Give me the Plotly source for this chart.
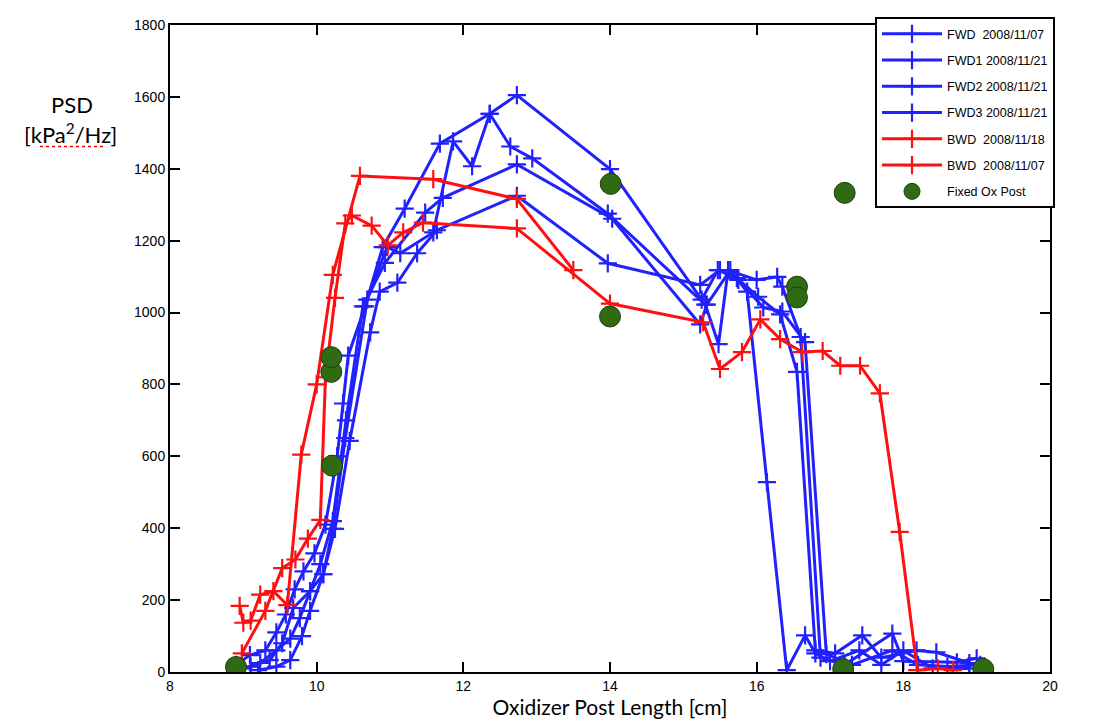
import plotly.graph_objects as go

# ---------------- data ----------------
fwd_x = [8.9, 9.09, 9.3, 9.45, 9.58, 9.7, 9.82, 9.97, 10.12, 10.28, 10.36, 10.43, 10.66, 10.9,
         11.2, 11.68, 12.36, 12.73, 14.0, 15.25, 15.47, 15.73, 16.02, 16.32, 16.55, 16.8, 17.07,
         17.44, 17.7, 18.18, 18.45, 18.9]
fwd_y = [20, 47, 60, 110, 160, 230, 280, 330, 410, 600, 747, 880, 1017, 1182,
         1289, 1470, 1553, 1605, 1399, 1036, 1118, 1096, 1044, 995, 835, 60, 52,
         102, 40, 60, 55, 25]

fwd1_x = [9.0, 9.23, 9.45, 9.64, 9.77, 9.91, 10.09, 10.22, 10.39, 10.69, 10.96, 11.14, 11.59,
          11.86, 12.12, 12.36, 12.64, 12.94, 13.97, 15.3, 15.48, 15.61, 16.0, 16.28, 16.35,
          16.6, 16.87, 17.2, 17.85, 18.0, 18.73, 19.0]
fwd1_y = [10, 25, 60, 93, 150, 225, 272, 398, 651, 1036, 1182, 1165, 1223,
          1476, 1407, 1553, 1462, 1429, 1275, 1022, 912, 1118, 1091, 1099, 1072,
          932, 40, 20, 107, 30, 27, 38]

fwd2_x = [9.1, 9.36, 9.53, 9.68, 9.91, 10.05, 10.22, 10.4, 10.63, 10.93, 11.48, 11.72, 12.73,
          14.03, 15.23, 15.32, 15.64, 15.87, 16.14, 16.41, 16.66, 16.8, 17.0, 17.4, 17.7,
          18.0, 18.4, 18.9]
fwd2_y = [15, 33, 80, 178, 225, 300, 420, 700, 1017, 1138, 1278, 1319, 1412,
          1261, 967, 1022, 1118, 1058, 528, 5, 102, 52, 30, 60, 20,
          60, 10, 10]

fwd3_x = [9.2, 9.45, 9.64, 9.8, 9.91, 10.09, 10.25, 10.45, 10.73, 10.86, 11.1, 11.37, 11.64,
          12.73, 13.97, 15.23, 15.5, 15.75, 16.09, 16.35, 16.66, 16.95, 17.3, 17.85, 18.2,
          18.6, 19.05]
fwd3_y = [5, 15, 33, 100, 170, 272, 398, 643, 945, 1058, 1083, 1165, 1229,
          1325, 1137, 1077, 1118, 1091, 1014, 1003, 918, 50, 20, 60, 20,
          15, 20]

bwd18_x = [8.98, 9.3, 9.53, 9.71, 9.88, 10.05, 10.12, 10.25, 10.39, 10.48, 10.75, 10.97, 11.18,
           11.45, 12.73, 14.0, 15.27, 15.5, 15.8, 16.05, 16.32, 16.62, 16.9, 17.14, 17.41,
           17.68, 17.95, 18.19, 18.47, 18.68]
bwd18_y = [52, 170, 289, 313, 371, 423, 820, 1041, 1248, 1270, 1242, 1187, 1223,
           1250, 1234, 1025, 973, 843, 890, 981, 926, 890, 893, 852, 852,
           775, 390, 5, 10, 5]

bwd07_x = [8.95, 9.0, 9.1, 9.23, 9.41, 9.6, 9.79, 10.0, 10.22, 10.59, 11.59, 12.73, 13.5]
bwd07_y = [184, 137, 143, 215, 225, 186, 605, 800, 1105, 1380, 1371, 1316, 1118]

fixed_x = [8.9, 10.2, 10.2, 10.21, 14.01, 14.0, 16.55, 16.55, 17.2, 17.18, 19.09]
fixed_y = [14, 835, 876, 574, 1358, 989, 1072, 1042, 1333, 8, 8]

x_ticks = [8, 10, 12, 14, 16, 18, 20]
y_ticks = [0, 200, 400, 600, 800, 1000, 1200, 1400, 1600, 1800]

series = [
    ("FWD\u00a0\u00a02008/11/07", fwd_x, fwd_y, "#2121ff"),
    ("FWD1 2008/11/21", fwd1_x, fwd1_y, "#2121ff"),
    ("FWD2 2008/11/21", fwd2_x, fwd2_y, "#2121ff"),
    ("FWD3 2008/11/21", fwd3_x, fwd3_y, "#2121ff"),
    ("BWD\u00a0\u00a02008/11/18", bwd18_x, bwd18_y, "#ff0f0f"),
    ("BWD\u00a0\u00a02008/11/07", bwd07_x, bwd07_y, "#ff0f0f"),
]

fig = go.Figure()
for i, (name, xs, ys, col) in enumerate(series):
    fig.add_trace(go.Scatter(
        x=xs, y=ys, name=name, mode="lines+markers", legendgroup=f"g{i}",
        line=dict(color=col, width=3),
        marker=dict(symbol="cross-thin", size=13, color=col, line=dict(color=col, width=2.2)),
    ))

fig.add_trace(go.Scatter(
    x=fixed_x, y=fixed_y, name="Fixed Ox Post", mode="markers", legendgroup="g6",
    marker=dict(symbol="circle", size=21, color="#2f6b12", line=dict(color="#1f3d10", width=1)),
))

PL, PT, PW, PH = 170, 17, 880, 655  # plot area in window pixels
fig.update_layout(
    width=1114, height=727,
    margin=dict(l=PL - 8, r=1114 - (PL - 8) - PW, t=PT - 8, b=727 - (PT - 8) - PH),
    paper_bgcolor="white", plot_bgcolor="white",
    font=dict(family="Liberation Sans, Arial, sans-serif", size=13, color="black"),
    showlegend=True,
    legend=dict(
        x=(875 - PL) / PW, y=1.012, xanchor="left", yanchor="top",
        bgcolor="white", bordercolor="black", borderwidth=2,
        font=dict(size=12.5, family="Liberation Sans, Arial, sans-serif"),
        tracegroupgap=7, itemwidth=60,
    ),
    xaxis=dict(
        range=[8, 20], tickvals=x_ticks, ticktext=[str(v) for v in x_ticks],
        showgrid=False, zeroline=False, showline=True, linecolor="black", linewidth=2,
        mirror="ticks", ticks="inside", ticklen=10, tickwidth=2, tickcolor="black",
        tickfont=dict(size=14),
        title=dict(text="Oxidizer Post Length [cm]", font=dict(size=21, family="Lato, sans-serif"),
                   standoff=4),
    ),
    yaxis=dict(
        range=[0, 1800], tickvals=y_ticks, ticktext=[str(v) for v in y_ticks],
        showgrid=False, zeroline=False, showline=True, linecolor="black", linewidth=2,
        mirror="ticks", ticks="inside", ticklen=10, tickwidth=2, tickcolor="black",
        tickfont=dict(size=14),
    ),
)

def px(xp, yp):
    return (xp - PL) / PW, (PT + PH - yp) / PH

ax, ay = px(72, 97)
fig.add_annotation(text="PSD", xref="paper", yref="paper", x=ax, y=ay,
                   showarrow=False, font=dict(size=22, family="Lato, sans-serif"), xanchor="center", yanchor="middle")
ax, ay = px(70, 127)
fig.add_annotation(text="[kPa<sup>2</sup>/Hz]", xref="paper", yref="paper", x=ax, y=ay,
                   showarrow=False, font=dict(size=22, family="Lato, sans-serif"), xanchor="center", yanchor="middle")
x0, y0 = px(40, 140)
x1, _ = px(103, 140)
fig.add_shape(type="line", xref="paper", yref="paper", x0=x0, x1=x1, y0=y0, y1=y0,
              line=dict(color="red", width=1.5, dash="dot"))

fig.write_html("out.html")
